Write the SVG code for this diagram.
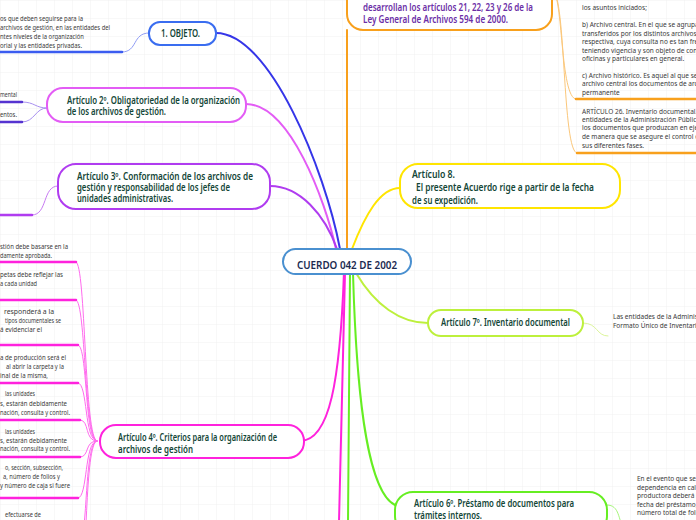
<svg xmlns="http://www.w3.org/2000/svg" width="696" height="520" viewBox="0 0 696 520">
<defs>
<pattern id="grid" width="18" height="18" patternUnits="userSpaceOnUse">
<path d="M18 0H0V18" fill="none" stroke="#efefef" stroke-width="0.8"/>
</pattern>
<style>
.n{font-family:"Noto Sans","Open Sans",sans-serif;font-weight:600;font-size:10px;fill:#134637}
.c{fill:#1a2a4f;font-size:11px}
.o{fill:#6b2ea6;font-size:11px}
.t{font-family:"Noto Sans","Open Sans",sans-serif;font-size:6.5px;fill:#3a3a3a}
.box{fill:#fff;stroke-width:2}
.m{fill:none;stroke-width:2;stroke-linecap:round}
.s{fill:none;stroke-width:1;stroke-linecap:round}
.u{fill:none;stroke-width:2.5;stroke-linecap:round}
</style>
</defs>
<rect width="696" height="520" fill="#fff"/>
<rect width="696" height="520" fill="url(#grid)"/>

<g id="connectors">
<path class="m" stroke="#3535e8" d="M216,33 C270,33 325,170 340,249"/>
<path class="m" stroke="#e35cf5" d="M246,104 C290,104 325,200 336,249"/>
<path class="m" stroke="#b03cf0" d="M270,186 C300,186 325,215 337,249"/>
<path class="m" stroke="#f8a01c" d="M347,30 L347,249"/>
<path class="m" stroke="#ffe500" d="M352,249 C365,215 380,188 400,188"/>
<path class="m" stroke="#bdf03c" d="M356,273 C375,305 400,323 428,323"/>
<path class="m" stroke="#66ee22" d="M350,273 L348,522"/>
<path class="m" stroke="#66ee22" d="M353,273 C356,380 365,490 395,505"/>
<path class="m" stroke="#ff22dd" d="M344,273 C340,380 330,441 300,441"/>
<path class="m" stroke="#ff22dd" d="M345,273 C343,380 341,460 339,522"/>
<path class="s" stroke="#8f9cf5" d="M122,52 C138,52 132,33 149,33"/>
<path class="s" stroke="#a890f0" d="M22,102 C35,102 35,108 47,108"/>
<path class="s" stroke="#a890f0" d="M22,122 C35,122 35,108 47,108"/>
<path class="s" stroke="#c77af2" d="M32,215 C48,215 42,186 58,186"/>
<g stroke="#ff6bee">
<path class="s" d="M76,262 C86,262 84,441 97,441"/>
<path class="s" d="M76,300 C86,300 84,441 97,441"/>
<path class="s" d="M78,345 C88,345 84,441 97,441"/>
<path class="s" d="M78,383 C88,383 84,441 97,441"/>
<path class="s" d="M80,420 C90,420 84,441 97,441"/>
<path class="s" d="M80,457 C90,457 84,441 97,441"/>
<path class="s" d="M78,498 C88,498 84,441 97,441"/>
<path class="s" d="M80,540 C88,540 84,441 97,441"/>
<path class="s" d="M80,580 C88,580 84,441 97,441"/>
</g>
<path class="s" stroke="#fbc77a" d="M553,-8 C563,-8 560,99 576,99"/>
<path class="s" stroke="#fbc77a" d="M553,-8 C566,-8 562,153 577,153"/>
<path class="s" stroke="#dcf59a" d="M583,323 C598,323 596,336 608,336"/>
<path class="s" stroke="#a6f57a" d="M607,505 C620,505 618,520 624,530"/>
</g>

<g id="underlines">
<path class="u" stroke="#3b5cf0" d="M-2,52 H122"/>
<path class="u" stroke="#5533d0" d="M-2,102 H22"/>
<path class="u" stroke="#5533d0" d="M-2,122 H22"/>
<path class="u" stroke="#b03cf0" d="M-2,215 H32"/>
<g stroke="#ff22dd">
<path class="u" d="M-2,262 H76"/>
<path class="u" d="M-2,300 H76"/>
<path class="u" d="M-2,345 H78"/>
<path class="u" d="M-2,383 H78"/>
<path class="u" d="M-2,420 H80"/>
<path class="u" d="M-2,457 H80"/>
<path class="u" d="M-2,498 H78"/>
</g>
<path class="u" stroke="#f8a01c" d="M576,99 H700"/>
<path class="u" stroke="#f8a01c" d="M577,153 H700"/>
</g>

<g id="central">
<rect class="box" x="283" y="249" width="128" height="25" rx="12.5" stroke="#4a90d0" stroke-width="1.5"/>
<text class="n c" x="297" y="269" textLength="100" lengthAdjust="spacingAndGlyphs">CUERDO 042 DE 2002</text>
</g>

<g id="objeto">
<rect class="box" x="149" y="22" width="67" height="23" rx="11" stroke="#3a6df0"/>
<text class="n" x="161" y="37" font-size="9.5" textLength="39" lengthAdjust="spacingAndGlyphs">1. OBJETO.</text>
</g>
<g id="objeto-note">
<text class="t" x="0" y="21" textLength="83" lengthAdjust="spacingAndGlyphs">os que deben seguirse para la</text>
<text class="t" x="0" y="30" textLength="110" lengthAdjust="spacingAndGlyphs">archivos de gestión, en las entidades del</text>
<text class="t" x="0" y="39" textLength="84" lengthAdjust="spacingAndGlyphs">ntes niveles de la organización</text>
<text class="t" x="0" y="48" textLength="82" lengthAdjust="spacingAndGlyphs">orial y las entidades privadas.</text>
</g>

<g id="art2">
<rect class="box" x="47" y="88" width="199" height="34" rx="16" stroke="#e35cf5"/>
<text class="n" x="67" y="103.5" textLength="173" lengthAdjust="spacingAndGlyphs">Artículo 2º. Obligatoriedad de la organización</text>
<text class="n" x="67" y="115" textLength="99" lengthAdjust="spacingAndGlyphs">de los archivos de gestión.</text>
</g>
<g id="art2-notes">
<text class="t" x="0" y="97" textLength="17" lengthAdjust="spacingAndGlyphs">mental</text>
<text class="t" x="0" y="117" textLength="17" lengthAdjust="spacingAndGlyphs">entos.</text>
</g>

<g id="art3">
<rect class="box" x="58" y="164" width="212" height="45" rx="18" stroke="#b03cf0"/>
<text class="n" x="77" y="180" textLength="176" lengthAdjust="spacingAndGlyphs">Artículo 3º. Conformación de los archivos de</text>
<text class="n" x="77" y="191" textLength="153" lengthAdjust="spacingAndGlyphs">gestión y responsabilidad de los jefes de</text>
<text class="n" x="77" y="202" textLength="96" lengthAdjust="spacingAndGlyphs">unidades administrativas.</text>
</g>

<g id="art4">
<rect class="box" x="100" y="425" width="204" height="33" rx="16" stroke="#ff22dd"/>
<text class="n" x="118" y="441" textLength="159" lengthAdjust="spacingAndGlyphs">Artículo 4º. Criterios para la organización de</text>
<text class="n" x="118" y="452.5" textLength="75" lengthAdjust="spacingAndGlyphs">archivos de gestión</text>
</g>
<g id="art4-notes">
<text class="t" x="0" y="249" textLength="68" lengthAdjust="spacingAndGlyphs">stión debe basarse en la</text>
<text class="t" x="0" y="258" textLength="52" lengthAdjust="spacingAndGlyphs">damente aprobada.</text>
<text class="t" x="0" y="277" textLength="63" lengthAdjust="spacingAndGlyphs">petas debe reflejar las</text>
<text class="t" x="0" y="286" textLength="37" lengthAdjust="spacingAndGlyphs">a cada unidad</text>
<text class="t" x="4" y="314" textLength="50" lengthAdjust="spacingAndGlyphs">responderá a la</text>
<text class="t" x="5" y="323" textLength="56" lengthAdjust="spacingAndGlyphs">tipos documentales se</text>
<text class="t" x="0" y="332" textLength="42" lengthAdjust="spacingAndGlyphs">á evidenciar el</text>
<text class="t" x="0" y="360" textLength="66" lengthAdjust="spacingAndGlyphs">a de producción será el</text>
<text class="t" x="6" y="369" textLength="58" lengthAdjust="spacingAndGlyphs">al abrir la carpeta y la</text>
<text class="t" x="0" y="378" textLength="48" lengthAdjust="spacingAndGlyphs">inal de la misma,</text>
<text class="t" x="5" y="396" textLength="30" lengthAdjust="spacingAndGlyphs">las unidades</text>
<text class="t" x="0" y="406" textLength="67" lengthAdjust="spacingAndGlyphs">s, estarán debidamente</text>
<text class="t" x="0" y="415" textLength="70" lengthAdjust="spacingAndGlyphs">nación, consulta y control.</text>
<text class="t" x="5" y="434" textLength="30" lengthAdjust="spacingAndGlyphs">las unidades</text>
<text class="t" x="0" y="443" textLength="67" lengthAdjust="spacingAndGlyphs">s, estarán debidamente</text>
<text class="t" x="0" y="451" textLength="70" lengthAdjust="spacingAndGlyphs">nación, consulta y control.</text>
<text class="t" x="5" y="470" textLength="58" lengthAdjust="spacingAndGlyphs">o, sección, subsección,</text>
<text class="t" x="3" y="479" textLength="57" lengthAdjust="spacingAndGlyphs">a, número de folios y</text>
<text class="t" x="0" y="488" textLength="70" lengthAdjust="spacingAndGlyphs">y número de caja si fuere</text>
<text class="t" x="5" y="517" textLength="36" lengthAdjust="spacingAndGlyphs">efectuarse de</text>
</g>

<g id="ley594">
<rect class="box" x="347" y="-30" width="205" height="60" rx="16" stroke="#f8a01c"/>
<text class="n o" x="363" y="11" textLength="170" lengthAdjust="spacingAndGlyphs">desarrollan los artículos 21, 22, 23 y 26 de la</text>
<text class="n o" x="363" y="23" textLength="145" lengthAdjust="spacingAndGlyphs">Ley General de Archivos 594 de 2000.</text>
</g>
<g id="ley594-notes">
<text class="t" x="582" y="10">los asuntos iniciados;</text>
<text class="t" x="582" y="27">b) Archivo central. En el que se agrupan d</text>
<text class="t" x="582" y="36">transferidos por los distintos archivos de</text>
<text class="t" x="582" y="44">respectiva, cuya consulta no es tan frecu</text>
<text class="t" x="582" y="53">teniendo vigencia y son objeto de consult</text>
<text class="t" x="582" y="61">oficinas y particulares en general.</text>
<text class="t" x="582" y="78">c) Archivo histórico. Es aquel al que se tra</text>
<text class="t" x="582" y="86">archivo central los documentos de archiv</text>
<text class="t" x="582" y="95">permanente</text>
<text class="t" x="582" y="114">ARTÍCULO 26. Inventario documental. Es</text>
<text class="t" x="582" y="122">entidades de la Administración Pública el</text>
<text class="t" x="582" y="130">los documentos que produzcan en ejercici</text>
<text class="t" x="582" y="139">de manera que se asegure el control de l</text>
<text class="t" x="582" y="148">sus diferentes fases.</text>
</g>

<g id="art8">
<rect class="box" x="400" y="164" width="220" height="44" rx="18" stroke="#ffe500"/>
<text class="n" x="412" y="178" textLength="43" lengthAdjust="spacingAndGlyphs">Artículo 8.</text>
<text class="n" x="416" y="191" textLength="178" lengthAdjust="spacingAndGlyphs">El presente Acuerdo rige a partir de la fecha</text>
<text class="n" x="412" y="204" textLength="66" lengthAdjust="spacingAndGlyphs">de su expedición.</text>
</g>

<g id="art7">
<rect class="box" x="428" y="310" width="155" height="26" rx="13" stroke="#bdf03c"/>
<text class="n" x="441" y="326" textLength="129" lengthAdjust="spacingAndGlyphs">Artículo 7º. Inventario documental</text>
</g>
<g id="art7-note">
<text class="t" x="613" y="319">Las entidades de la Administr</text>
<text class="t" x="613" y="328">Formato Único de Inventario D</text>
</g>

<g id="art6">
<rect class="box" x="395" y="492" width="212" height="42" rx="18" stroke="#66ee22"/>
<text class="n" x="414" y="507" textLength="160" lengthAdjust="spacingAndGlyphs">Artículo 6º. Préstamo de documentos para</text>
<text class="n" x="414" y="518.5" textLength="68" lengthAdjust="spacingAndGlyphs">trámites internos.</text>
</g>
<g id="art6-note">
<text class="t" x="637" y="481">En el evento que se n</text>
<text class="t" x="637" y="489.5">dependencia en calid</text>
<text class="t" x="637" y="498">productora deberá lle</text>
<text class="t" x="637" y="506.5">fecha del préstamo, i</text>
<text class="t" x="637" y="515">número total de folio</text>
</g>
</svg>
